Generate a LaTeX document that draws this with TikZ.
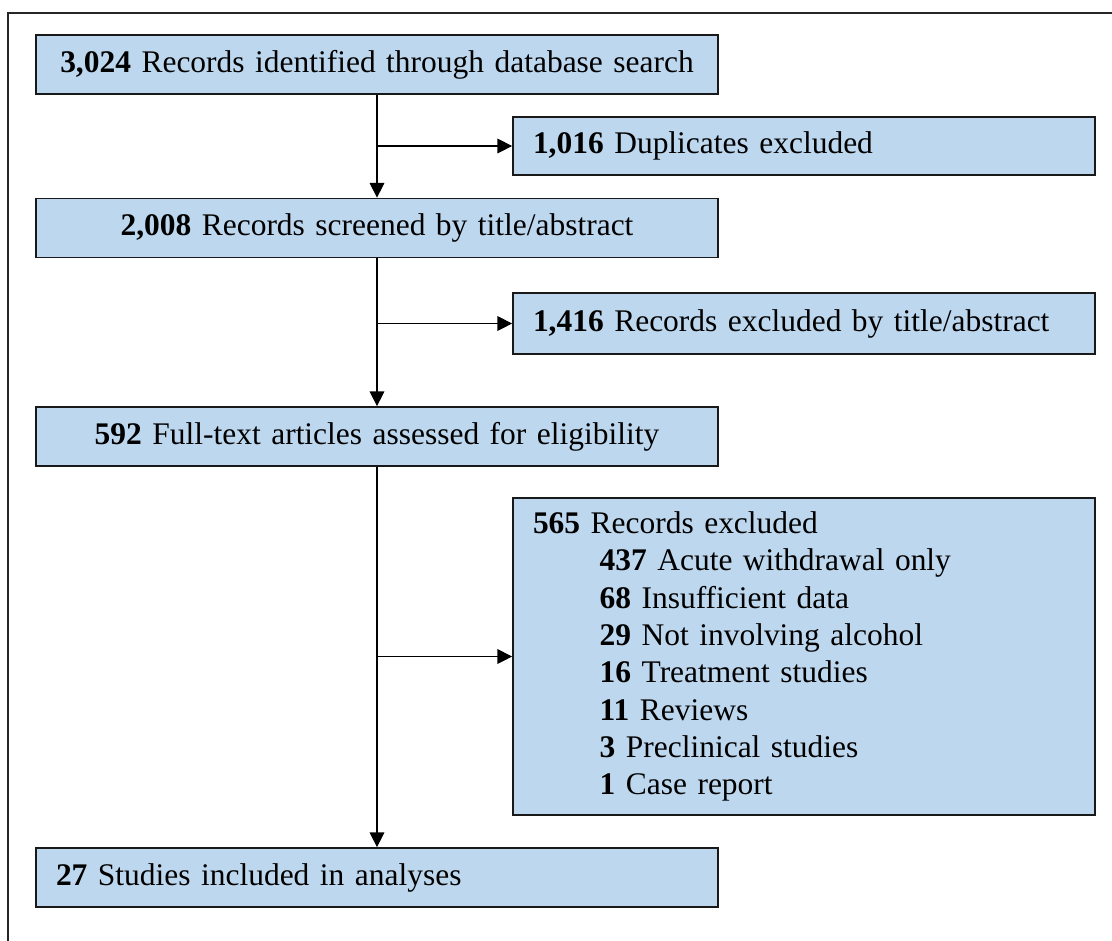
\documentclass[tikz,border=0pt]{standalone}
\usepackage{fontspec}
\setmainfont{Liberation Serif}
\usepackage{tikz}
\usetikzlibrary{arrows.meta,positioning,calc}
\definecolor{boxblue}{RGB}{189,215,238}
\tikzset{>={Triangle[length=11pt,width=11pt]}}
\tikzset{
  mainbox/.style={draw=black!90, line width=1.3pt, fill=boxblue, inner xsep=5pt, inner ysep=0pt,
    text width=501.5pt, align=center, minimum height=44.25pt, font=\fontsize{23.6}{28}\selectfont},
  sidebox/.style={mainbox, inner xsep=15pt, text width=406.5pt, align=left},
}

\begin{document}
\begin{tikzpicture}[x=0.75pt,y=-0.75pt]
\useasboundingbox (0,0) rectangle (1112,940);
\draw[line width=1.3pt, black!85] (8,945) -- (8,13) -- (1117,13);

\node[mainbox] (ident) at (377,64.5) {\textbf{3,024} Records identified through database search};
\node[sidebox, minimum height=43.5pt] (dupl) at (804,146) {\textbf{1,016} Duplicates excluded};
\node[mainbox] (screen) at (377,228) {\textbf{2,008} Records screened by title/abstract};
\node[sidebox, minimum height=45.75pt] (exabs) at (804,323.5) {\textbf{1,416} Records excluded by title/abstract};
\node[mainbox] (full) at (377,436.5) {\textbf{592} Full-text articles assessed for eligibility};
\node[sidebox, minimum height=237.75pt] (exfull) at (804,656.5) {\textbf{565} Records excluded\\
  \hspace*{50pt}\textbf{437} Acute withdrawal only\\
  \hspace*{50pt}\textbf{68} Insufficient data\\
  \hspace*{50pt}\textbf{29} Not involving alcohol\\
  \hspace*{50pt}\textbf{16} Treatment studies\\
  \hspace*{50pt}\textbf{11} Reviews\\
  \hspace*{50pt}\textbf{3} Preclinical studies\\
  \hspace*{50pt}\textbf{1} Case report};
\node[sidebox, text width=481.5pt, minimum height=44.25pt] (incl) at (377,877.5) {\textbf{27} Studies included in analyses};

\draw[->, line width=0.8pt] (ident.south) -- (screen.north);
\draw[->, line width=0.8pt] (ident.south |- dupl.west) -- (dupl.west);
\draw[->, line width=0.8pt] (screen.south) -- (full.north);
\draw[->, line width=0.8pt] (screen.south |- exabs.west) -- (exabs.west);
\draw[->, line width=0.8pt] (full.south) -- (incl.north);
\draw[->, line width=0.8pt] (full.south |- exfull.west) -- (exfull.west);
\end{tikzpicture}
\end{document}
